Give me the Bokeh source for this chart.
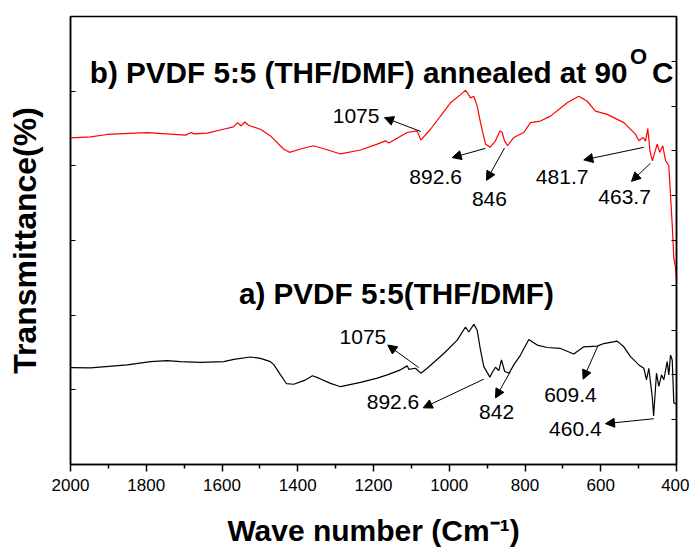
from bokeh.plotting import figure
from bokeh.models import Range1d, LinearAxis, FixedTicker, Label, Arrow, NormalHead
from bokeh.embed import file_html
from bokeh.resources import INLINE

# FTIR spectra: wavenumber (cm^-1) against transmittance (offset, arbitrary units)
annealed_wn = [2000, 1947.2, 1903.1, 1797.5, 1696.4, 1681.3, 1675.2, 1639.1, 1596, 1569.6,
               1559.1, 1549.3, 1539.8, 1530.0, 1498.4, 1472.1, 1437.6, 1421.8, 1392.7, 1358.4,
               1322.2, 1287.1, 1234.3, 1190.2, 1168.3, 1159.6, 1111.0, 1084.6, 1075, 1049.5,
               996.7, 970.3, 957.1, 951.8, 943.9, 935.2, 926.2, 917.5, 904.3, 892.6,
               877.9, 866.5, 860.2, 854.1, 846, 829.6, 803.2, 785.5, 759.1, 732.7,
               688.6, 657.9, 635.8, 613.9, 583.0, 539.1, 508.3, 499.5, 487.9, 481.7,
               475.8, 470, 463.7, 451.0, 444.1, 436.2, 429.0, 420.3, 415.8, 411.3,
               407.1, 402.6, 400]
annealed_t = [43.75, 43.88, 44.20, 44.46, 44.11, 44.46, 44.28, 44.37, 44.90, 45.21,
              45.79, 45.34, 45.87, 45.43, 44.90, 44.01, 42.25, 41.81, 42.25, 42.69,
              42.16, 41.59, 42.12, 42.91, 43.35, 43.05, 44.46, 44.68, 43.44, 44.90,
              48.44, 49.54, 50.11, 49.76, 49.10, 49.31, 47.99, 45.79, 42.91, 42.48,
              43.35, 44.68, 44.46, 43.35, 42.69, 43.80, 44.46, 45.79, 46.00, 46.66,
              48.44, 49.31, 48.65, 47.32, 46.89, 45.79, 44.24, 43.35, 43.80, 43.31,
              44.99, 41.99, 40.66, 42.91, 41.81, 42.69, 40.70, 40.04, 36.07, 32.09,
              27.68, 26.36, 24.64]

asprep_wn = [2000, 1947.2, 1850.3, 1788.8, 1744.7, 1709.6, 1656.8, 1595.2, 1568.8, 1524.8,
             1498.4, 1472.1, 1463.2, 1445.5, 1429.7, 1410.4, 1382.2, 1361.1, 1344.4, 1313.5,
             1287.1, 1234.3, 1190.2, 1163.8, 1128.7, 1111.0, 1106.8, 1089.1, 1075, 1058.2,
             1014.4, 979.0, 957.1, 948.4, 935.2, 926.2, 917.5, 908.8, 892.6, 886.7,
             877.9, 869.2, 862.2, 853.5, 842, 829.6, 811.9, 789.9, 767.8, 741.4,
             706.3, 671.2, 644.8, 609.4, 591.9, 556.6, 539.1, 521.5, 499.5, 486.3,
             479.2, 473.1, 464.2, 460.4, 452.8, 446.7, 439.6, 433.5, 424.6, 420.3,
             415.8, 411.3, 407.1, 400]
asprep_t = [12.98, 12.94, 13.34, 13.77, 13.91, 13.77, 13.68, 13.77, 14.08, 14.40,
            14.21, 13.77, 13.38, 12.01, 10.82, 10.75, 11.26, 11.88, 11.56, 10.86,
            10.42, 10.99, 11.56, 12.01, 12.68, 13.21, 12.75, 12.89, 12.23, 12.89,
            14.87, 16.65, 18.41, 17.75, 18.77, 17.97, 15.32, 13.11, 11.70, 12.32,
            13.02, 12.58, 14.00, 12.45, 12.23, 13.34, 14.66, 16.73, 15.99, 15.67,
            15.54, 14.79, 15.76, 15.85, 16.20, 16.52, 15.76, 14.44, 13.34, 12.89,
            11.35, 12.89, 9.14, 6.49, 12.23, 10.46, 12.01, 11.35, 13.77, 12.01,
            14.66, 14.00, 8.25, 8.08]

x_ticks = [2000, 1800, 1600, 1400, 1200, 1000, 800, 600, 400]
x_minor = [1900, 1700, 1500, 1300, 1100, 900, 700, 500]
left_ticks = [10, 20, 30, 40, 50]
right_ticks = [10, 20, 30, 40, 50, 60, 70, 80, 90]

# peak callouts: label text, label centre, arrow tail (on the spectrum) and head
annealed_peaks = ["1075", "892.6", "846", "481.7", "463.7"]
annealed_label_xy = [(1246, 46.62), (1036, 38.50), (894, 35.54), (702, 38.50), (537, 35.76)]
annealed_arrows = [((1075, 44.60), (1171, 46.45)), ((904.3, 42.34), (992.2, 41.10)),
                   ((854.1, 42.38), (901.7, 38.05)), ((486.3, 42.48), (644.8, 40.79)),
                   ((468.6, 40.36), (518.8, 37.92))]

asprep_peaks = ["1075", "892.6", "842", "609.4", "460.4"]
asprep_label_xy = [(1228, 17.09), (1148.5, 8.34), (875, 7.02), (680, 9.36), (667, 4.73)]
asprep_arrows = [((1080.4, 12.98), (1162.3, 15.99)), ((908.8, 11.43), (1068.8, 7.59)),
                 ((840.1, 12.32), (877.9, 8.91)), ((607.8, 15.85), (646.5, 11.43)),
                 ((459.9, 6.13), (587.5, 5.47))]

FONT = "Liberation Sans"

p = figure(width=689, height=549, x_range=Range1d(2000, 400), y_range=Range1d(0, 60),
           output_backend="svg", toolbar_location=None,
           min_border_left=70, min_border_right=13, min_border_top=16, min_border_bottom=80)
p.xgrid.visible = False
p.ygrid.visible = False
p.background_fill_color = "white"
p.border_fill_color = "white"
p.outline_line_color = "black"
p.outline_line_width = 1.5

xa = p.xaxis[0]
xa.ticker = FixedTicker(ticks=x_ticks, minor_ticks=x_minor)
xa.major_tick_out = 7
xa.major_tick_in = 0
xa.minor_tick_out = 4
xa.minor_tick_in = 0
xa.axis_line_width = 1.5
xa.major_tick_line_width = 1.5
xa.minor_tick_line_width = 1.5
xa.major_label_text_font = FONT
xa.major_label_text_font_size = "17px"
xa.major_label_text_color = "black"
xa.major_label_standoff = 7
xa.axis_label = "Wave number (Cm\u207b\u00b9)"
xa.axis_label_text_font = FONT
xa.axis_label_text_font_size = "30px"
xa.axis_label_text_font_style = "bold"
xa.axis_label_text_color = "black"
xa.axis_label_standoff = 20

ya = p.yaxis[0]
ya.ticker = FixedTicker(ticks=left_ticks)
ya.major_tick_in = 5
ya.major_tick_out = 0
ya.minor_tick_line_color = None
ya.axis_line_width = 1.5
ya.major_tick_line_width = 1.2
ya.major_label_overrides = {t: "" for t in left_ticks}
ya.major_label_standoff = 0
ya.axis_label = "Transmittance(%)"
ya.axis_label_text_font = FONT
ya.axis_label_text_font_size = "32px"
ya.axis_label_text_font_style = "bold"
ya.axis_label_text_color = "black"
ya.axis_label_standoff = 28

p.extra_y_ranges = {"r": Range1d(0, 100)}
ra = LinearAxis(y_range_name="r", ticker=FixedTicker(ticks=right_ticks))
ra.major_tick_in = 5
ra.major_tick_out = 0
ra.minor_tick_line_color = None
ra.axis_line_width = 1.5
ra.major_tick_line_width = 1.2
ra.major_label_overrides = {t: "" for t in right_ticks}
ra.major_label_standoff = 0
p.add_layout(ra, "right")

p.line(annealed_wn, annealed_t, line_color="#ff0000", line_width=1.2)
p.line(asprep_wn, asprep_t, line_color="black", line_width=1.2)


def callouts(texts, label_xy, arrows):
    for txt, (lx, ly), ((tx, ty), (hx, hy)) in zip(texts, label_xy, arrows):
        p.add_layout(Arrow(end=NormalHead(size=9, fill_color="black", line_color="black"),
                           x_start=tx, y_start=ty, x_end=hx, y_end=hy,
                           line_color="black", line_width=1))
        p.add_layout(Label(x=lx, y=ly, text=txt, text_font=FONT, text_font_size="21px",
                           text_align="center", text_baseline="middle", text_color="black"))


callouts(annealed_peaks, annealed_label_xy, annealed_arrows)
callouts(asprep_peaks, asprep_label_xy, asprep_arrows)


def label(x, y, txt, size, align="left"):
    p.add_layout(Label(x=x, y=y, text=txt, text_font=FONT, text_font_size=size,
                       text_font_style="bold", text_align=align,
                       text_baseline="middle", text_color="black"))


# sample titles
label(529.4, 52.45, "b) PVDF 5:5 (THF/DMF) annealed at 90", "29.7px", align="right")
label(500.3, 54.6, "O", "22px", align="center")
label(407.9, 52.45, "C", "29.7px", align="right")
label(1128.7, 22.91, "a)  PVDF 5:5(THF/DMF)", "29.7px", align="center")

open("out.html", "w").write(file_html(p, INLINE))
